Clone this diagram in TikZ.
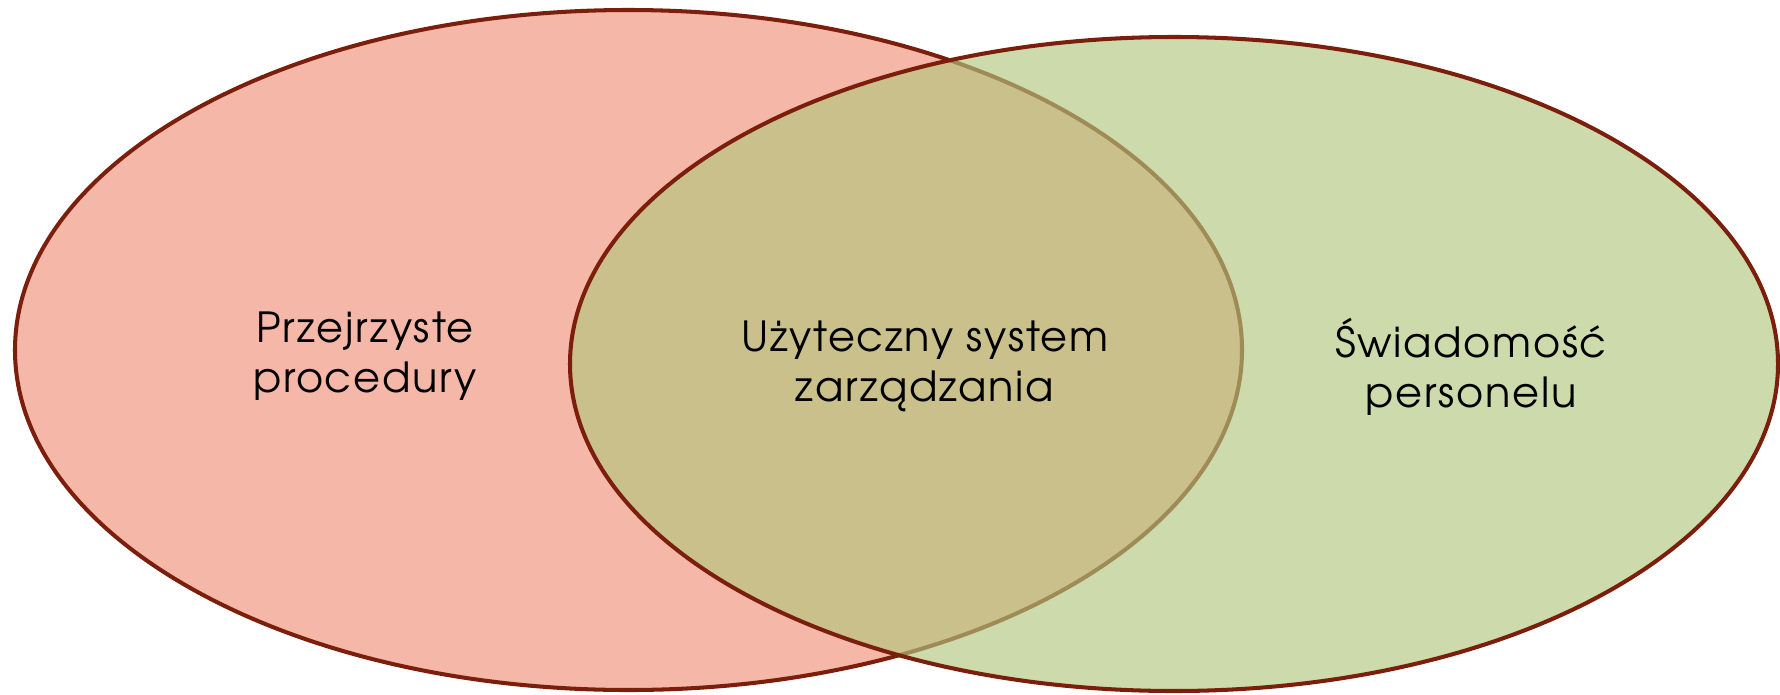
\documentclass[tikz,border=0pt]{standalone}
\usepackage{fontspec}
\setmainfont{TeX Gyre Adventor}[LetterSpace=4]
\definecolor{obrys}{HTML}{7B1F0C}
\definecolor{lewy}{HTML}{F5B7A7}
\definecolor{prawy}{HTML}{B2C67E}
\begin{document}
\begin{tikzpicture}[x=0.01cm,y=-0.01cm,line join=round,line cap=round,
		zbior/.style={draw=obrys,line width=1.15pt},
		etykieta/.style={align=center,inner sep=0pt,font=\fontsize{11.8}{14.2}\selectfont}]
	\useasboundingbox (0,0) rectangle (1780,694);
	\draw[zbior,fill=lewy] (628.5,350) ellipse [x radius=613.5,y radius=340];
	\draw[zbior,fill=prawy,fill opacity=.65] (1174,364) ellipse [x radius=604,y radius=327];
	\node[etykieta] (procedury) at (365,356) {Przejrzyste\\procedury};
	\node[etykieta] (system) at (925,366) {Użyteczny system\\zarządzania};
	\node[etykieta] (personel) at (1471,367) {Świadomość\\personelu};
\end{tikzpicture}
\end{document}
